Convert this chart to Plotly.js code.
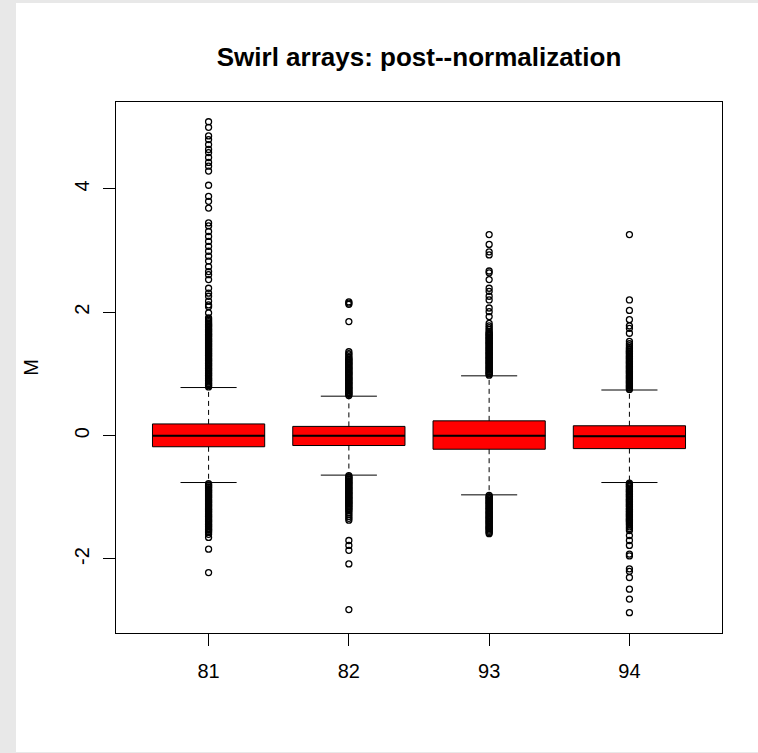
<!DOCTYPE html>
<html>
<head>
<meta charset="utf-8">
<script src="https://cdn.plot.ly/plotly-3.0.1.min.js"></script>
<style>
  html, body { margin: 0; padding: 0; background: #e8e8e8; width: 758px; height: 753px; overflow: hidden; }
  #chart { position: absolute; left: 16px; top: 3px; width: 742px; height: 749px; background: #fff; }
</style>
</head>
<body>
<div id="chart"></div>
<script>
// ---- data ----
const categories = ['81', '82', '93', '94'];
const q1 = [-0.18, -0.16, -0.22, -0.21];
const medians = [0.00, 0.00, 0.00, -0.01];
const q3 = [0.19, 0.15, 0.24, 0.16];
const lowerWhisker = [-0.76, -0.64, -0.96, -0.76];
const upperWhisker = [0.78, 0.64, 0.97, 0.74];

const outliers81 = [
  0.79, 0.81, 0.82, 0.84, 0.85, 0.87, 0.89, 0.90, 0.92, 0.93, 0.95, 0.97, 0.98, 1.00, 1.01, 1.03,
  1.05, 1.06, 1.08, 1.09, 1.11, 1.13, 1.14, 1.16, 1.17, 1.19, 1.21, 1.22, 1.24, 1.25, 1.27, 1.29,
  1.30, 1.32, 1.33, 1.35, 1.37, 1.38, 1.40, 1.41, 1.43, 1.45, 1.46, 1.48, 1.49, 1.51, 1.53, 1.54,
  1.56, 1.57, 1.59, 1.61, 1.62, 1.64, 1.65, 1.67, 1.69, 1.70, 1.72, 1.73, 1.75, 1.77, 1.78, 1.80,
  1.81, 1.83, 1.85, 1.87, 1.89, 1.91,
  1.99, 2.09, 2.12, 2.18, 2.26, 2.31, 2.39, 2.53, 2.61, 2.66, 2.74, 2.83, 2.91, 2.99, 3.07, 3.15,
  3.23, 3.31, 3.40, 3.45, 3.69, 3.80, 3.88, 4.06, 4.29, 4.37, 4.43, 4.51, 4.59, 4.64, 4.72, 4.80,
  4.86, 5.00, 5.09,
  -0.78, -0.80, -0.81, -0.83, -0.84, -0.86, -0.88, -0.89, -0.91, -0.92, -0.94, -0.96, -0.97, -0.99,
  -1.00, -1.02, -1.04, -1.05, -1.07, -1.08, -1.10, -1.12, -1.13, -1.15, -1.16, -1.18, -1.20, -1.21,
  -1.23, -1.24, -1.26, -1.28, -1.29, -1.31, -1.32, -1.34, -1.36, -1.37, -1.39, -1.40, -1.42, -1.44,
  -1.45, -1.47, -1.48, -1.50, -1.52, -1.53, -1.55, -1.57, -1.60,
  -1.65, -1.84, -2.22
];
const outliers82 = [
  0.65, 0.67, 0.68, 0.70, 0.71, 0.73, 0.75, 0.76, 0.78, 0.79, 0.81, 0.83, 0.84, 0.86, 0.87, 0.89,
  0.91, 0.92, 0.94, 0.95, 0.97, 0.99, 1.00, 1.02, 1.03, 1.05, 1.07, 1.08, 1.10, 1.11, 1.13, 1.15,
  1.16, 1.18, 1.19, 1.21, 1.23, 1.24, 1.26, 1.28, 1.31, 1.33, 1.36,
  1.85, 2.13, 2.15, 2.17,
  -0.65, -0.67, -0.68, -0.70, -0.71, -0.73, -0.75, -0.76, -0.78, -0.79, -0.81, -0.83, -0.84, -0.86,
  -0.87, -0.89, -0.91, -0.92, -0.94, -0.95, -0.97, -0.99, -1.00, -1.02, -1.03, -1.05, -1.07, -1.08,
  -1.10, -1.11, -1.13, -1.15, -1.16, -1.18, -1.20, -1.22, -1.25, -1.28, -1.31, -1.34, -1.37,
  -1.70, -1.78, -1.86, -2.08, -2.82
];
const outliers93 = [
  0.98, 1.00, 1.01, 1.03, 1.04, 1.06, 1.08, 1.09, 1.11, 1.12, 1.14, 1.16, 1.17, 1.19, 1.20, 1.22,
  1.24, 1.25, 1.27, 1.28, 1.30, 1.32, 1.33, 1.35, 1.36, 1.38, 1.40, 1.41, 1.43, 1.44, 1.46, 1.48,
  1.49, 1.51, 1.52, 1.54, 1.56, 1.57, 1.59, 1.60, 1.62, 1.64, 1.65, 1.67, 1.69, 1.72, 1.75, 1.78,
  1.82,
  1.93, 2.01, 2.07, 2.20, 2.26, 2.34, 2.39, 2.53, 2.64, 2.67, 2.93, 2.98, 3.10, 3.26,
  -0.97, -0.99, -1.00, -1.02, -1.03, -1.05, -1.07, -1.08, -1.10, -1.11, -1.13, -1.15, -1.16, -1.18,
  -1.19, -1.21, -1.23, -1.24, -1.26, -1.27, -1.29, -1.31, -1.32, -1.34, -1.35, -1.37, -1.39, -1.40,
  -1.42, -1.43, -1.45, -1.47, -1.48, -1.50, -1.51, -1.53, -1.55, -1.57, -1.59
];
const outliers94 = [
  0.75, 0.77, 0.78, 0.80, 0.81, 0.83, 0.85, 0.86, 0.88, 0.89, 0.91, 0.93, 0.94, 0.96, 0.97, 0.99,
  1.01, 1.02, 1.04, 1.05, 1.07, 1.09, 1.10, 1.12, 1.13, 1.15, 1.17, 1.18, 1.20, 1.21, 1.23, 1.25,
  1.26, 1.28, 1.29, 1.31, 1.33, 1.34, 1.36, 1.37, 1.39, 1.41, 1.43, 1.46, 1.49, 1.53,
  1.66, 1.74, 1.78, 1.88, 2.03, 2.20, 3.26,
  -0.77, -0.79, -0.80, -0.82, -0.83, -0.85, -0.87, -0.88, -0.90, -0.91, -0.93, -0.95, -0.96, -0.98,
  -0.99, -1.01, -1.03, -1.04, -1.06, -1.07, -1.09, -1.11, -1.12, -1.14, -1.15, -1.17, -1.19, -1.20,
  -1.22, -1.23, -1.25, -1.27, -1.28, -1.30, -1.31, -1.33, -1.35, -1.36, -1.38, -1.39, -1.41, -1.43,
  -1.45, -1.48, -1.51, -1.54,
  -1.62, -1.70, -1.78, -1.92, -1.95, -2.16, -2.20, -2.30, -2.49, -2.65, -2.87
];
const outlierLists = [outliers81, outliers82, outliers93, outliers94];
const yTickVals = [-2, 0, 2, 4];
const yTickText = ['-2', '0', '2', '4'];

// ---- style constants ----
const BOX_W = 0.8;
const CAP_HALF = 0.2;
const FONT = 'Liberation Sans, Arial, sans-serif';

const positions = categories.map((c, i) => i + 1);

const traces = [];

// boxes (quartiles only; whiskers drawn dashed below)
traces.push({
  type: 'box',
  x: positions,
  q1: q1,
  median: medians,
  q3: q3,
  lowerfence: q1,
  upperfence: q3,
  width: BOX_W,
  whiskerwidth: 0,
  boxpoints: false,
  fillcolor: '#ff0000',
  line: { color: '#000000', width: 1 },
  hoverinfo: 'skip',
  showlegend: false
});

// thicker median lines
const medX = [], medY = [];
positions.forEach((p, i) => {
  medX.push(p - BOX_W / 2, p + BOX_W / 2, null);
  medY.push(medians[i], medians[i], null);
});
traces.push({
  type: 'scatter', mode: 'lines', x: medX, y: medY,
  line: { color: '#000000', width: 2 }, hoverinfo: 'skip', showlegend: false
});

// dashed whiskers
const wX = [], wY = [];
positions.forEach((p, i) => {
  wX.push(p, p, null, p, p, null);
  wY.push(q3[i], upperWhisker[i], null, q1[i], lowerWhisker[i], null);
});
traces.push({
  type: 'scatter', mode: 'lines', x: wX, y: wY,
  line: { color: '#000000', width: 1, dash: '5px,4px' }, hoverinfo: 'skip', showlegend: false
});

// whisker caps
const cX = [], cY = [];
positions.forEach((p, i) => {
  cX.push(p - CAP_HALF, p + CAP_HALF, null, p - CAP_HALF, p + CAP_HALF, null);
  cY.push(upperWhisker[i], upperWhisker[i], null, lowerWhisker[i], lowerWhisker[i], null);
});
traces.push({
  type: 'scatter', mode: 'lines', x: cX, y: cY,
  line: { color: '#000000', width: 1 }, hoverinfo: 'skip', showlegend: false
});

// outliers
outlierLists.forEach((vals, i) => {
  traces.push({
    type: 'scatter', mode: 'markers',
    x: vals.map(() => positions[i]), y: vals,
    marker: { symbol: 'circle-open', size: 6, color: '#000000', line: { width: 1.3, color: '#000000' } },
    hoverinfo: 'skip', showlegend: false
  });
});

const layout = {
  width: 742, height: 749,
  margin: { l: 100, r: 36, t: 99, b: 119 },
  paper_bgcolor: '#ffffff',
  plot_bgcolor: '#ffffff',
  showlegend: false,
  font: { family: FONT, color: '#000000', size: 20 },
  title: {
    text: '<b>Swirl arrays: post--normalization</b>',
    font: { family: FONT, size: 26, color: '#000000' },
    x: 0.5, xref: 'paper', xanchor: 'center',
    y: 0.928, yref: 'container', yanchor: 'middle'
  },
  xaxis: {
    range: [0.34, 4.66],
    tickmode: 'array', tickvals: positions, ticktext: categories,
    ticks: 'outside', ticklen: 12, tickwidth: 1, tickcolor: '#000000',
    showline: true, linecolor: '#000000', linewidth: 1, mirror: true,
    showgrid: false, zeroline: false,
    tickfont: { family: FONT, size: 20, color: '#000000' },
    ticklabelstandoff: 8
  },
  yaxis: {
    range: [-3.2, 5.41],
    tickmode: 'array', tickvals: yTickVals, ticktext: yTickText,
    tickangle: -90,
    ticks: 'outside', ticklen: 12, tickwidth: 1, tickcolor: '#000000',
    showline: true, linecolor: '#000000', linewidth: 1, mirror: true,
    showgrid: false, zeroline: false,
    tickfont: { family: FONT, size: 20, color: '#000000' },
    ticklabelstandoff: 6,
    title: { text: 'M', font: { family: FONT, size: 20, color: '#000000' }, standoff: 27 }
  }
};

Plotly.newPlot('chart', traces, layout, { staticPlot: true, displayModeBar: false });
</script>
</body>
</html>
